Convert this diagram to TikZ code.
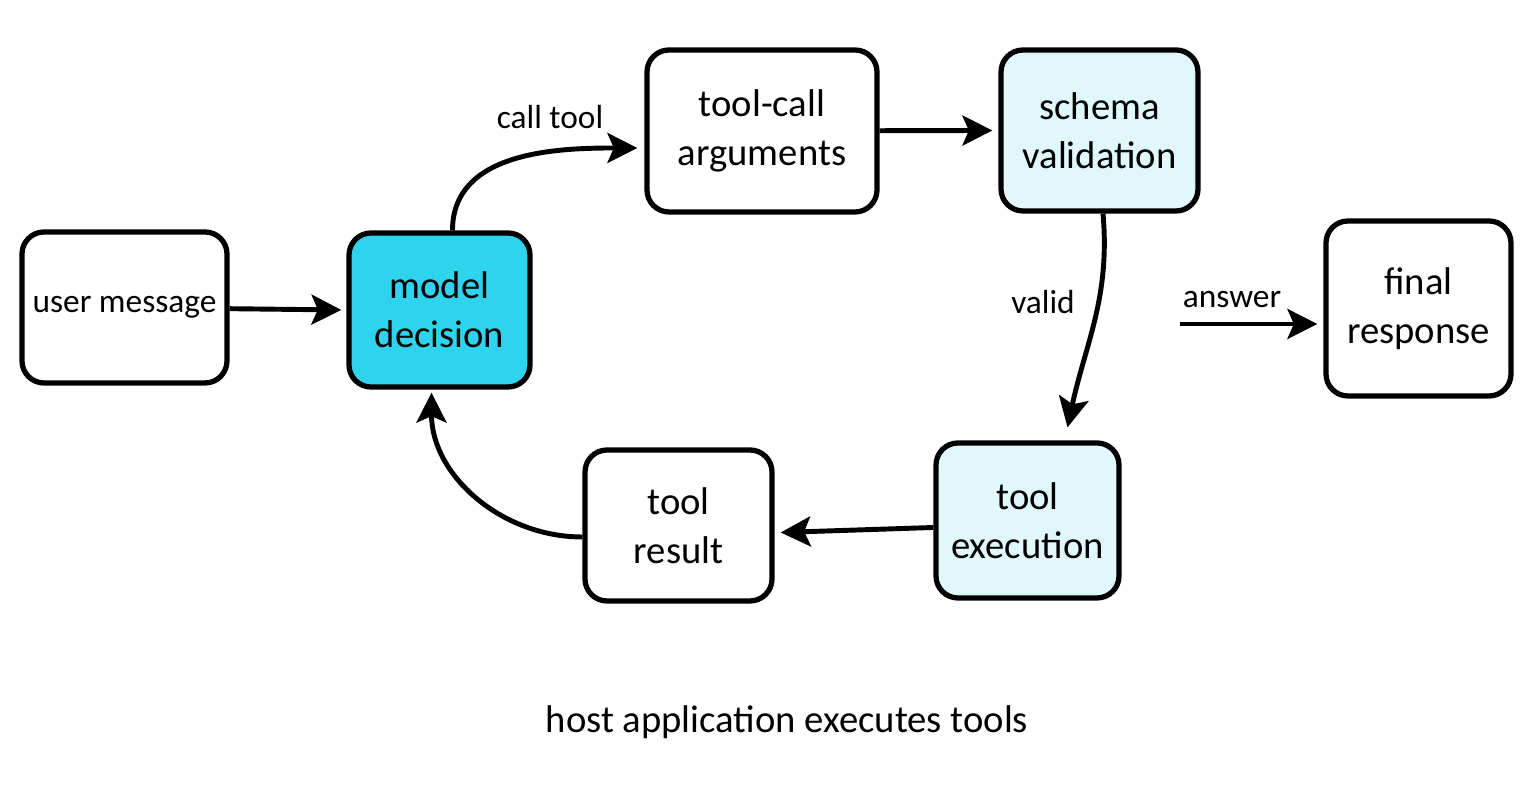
\documentclass[tikz,border=0pt]{standalone}
\usepackage{fontspec}
\setmainfont{Carlito}
\usetikzlibrary{positioning, arrows.meta}

\definecolor{decisioncyan}{RGB}{46,211,237}
\definecolor{checkcyan}{RGB}{224,248,252}

\tikzset{
  stage/.style={draw, line width=1.5pt, rounded corners=0.22cm, align=center,
    inner sep=0pt, font=\fontsize{11}{14}\selectfont},
  flow/.style={-{Stealth[length=8.5pt,width=8.5pt,inset=1.8pt]}, line width=1.4pt},
  lbl/.style={font=\fontsize{9.5}{12}\selectfont}
}

\begin{document}
\begin{tikzpicture}
\useasboundingbox (0,0) rectangle (15.36,7.95);

% top row
\node[stage, minimum width=2.30cm, minimum height=1.62cm] (args) at (7.62,6.64) {tool-call\\arguments};
\node[stage, fill=checkcyan, minimum width=1.97cm, minimum height=1.61cm] (schema) at (10.995,6.645) {schema\\validation};

% middle row
\node[stage, minimum width=2.05cm, minimum height=1.51cm, font=\fontsize{9.5}{12}\selectfont] (user) at (1.245,4.875) {user message};
\node[stage, fill=decisioncyan, minimum width=1.81cm, minimum height=1.54cm] (decision) at (4.395,4.85) {model\\decision};
\node[stage, minimum width=1.85cm, minimum height=1.75cm] (final) at (14.185,4.865) {final\\response};

% bottom row
\node[stage, minimum width=1.87cm, minimum height=1.51cm] (result) at (6.785,2.695) {tool\\result};
\node[stage, fill=checkcyan, minimum width=1.83cm, minimum height=1.55cm] (exec) at (10.275,2.745) {tool\\execution};

\coordinate (answerstart) at (11.80,4.71);

% connectors
\draw[flow] (user) -- ([xshift=-0.05cm]decision.west);
\draw[flow] ([xshift=0.13cm]decision.north) to[out=90,in=180] ([xshift=-0.07cm,yshift=-0.17cm]args.west);
\draw[flow] (args) -- ([xshift=-0.06cm]schema.west);
\draw[flow] ([xshift=0.035cm]schema.south) to[out=-85,in=78] ([xshift=0.40cm,yshift=0.13cm]exec.north);
\draw[flow] (answerstart) -- ([xshift=-0.06cm]final.west |- answerstart);
\draw[flow] ([yshift=-0.07cm]exec.west) -- ([xshift=0.06cm,yshift=-0.07cm]result.east);
\draw[flow] ([yshift=-0.115cm]result.west) to[out=180,in=-90] ([xshift=-0.08cm,yshift=-0.03cm]decision.south);

% labels
\node[lbl] (calltool) at (5.50,6.78) {call tool};
\node[lbl] (valid) at (10.43,4.93) {valid};
\node[lbl] (answer) at (12.32,4.95) {answer};
\node[font=\fontsize{11}{14}\selectfont] (host) at (7.87,0.73) {host application executes tools};
\end{tikzpicture}
\end{document}
